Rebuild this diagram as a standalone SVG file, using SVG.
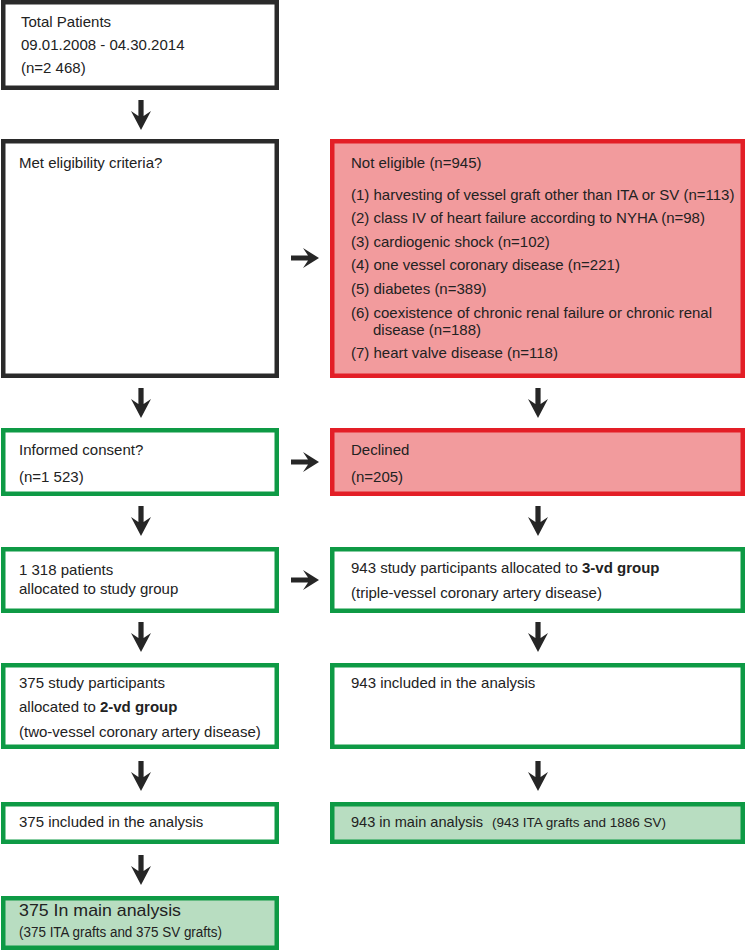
<svg xmlns="http://www.w3.org/2000/svg" width="747" height="952" viewBox="0 0 747 952">
<style>
.t{font-family:"Liberation Sans",Arial,Helvetica,sans-serif;font-size:15px;fill:#222}
.b{font-weight:bold}
.k{fill:#fff;stroke:#2a2a2a;stroke-width:4.5}
.g{fill:#fff;stroke:#0e9a45;stroke-width:4.5}
.gf{fill:#b8ddc1;stroke:#0e9a45;stroke-width:4.5}
.r{fill:#f29b9d;stroke:#e31e26;stroke-width:4.5}
.a{fill:#262626}
</style>
<defs>
<path id="dn" d="M-2.6 0 L2.6 0 L2.6 16 L10 11 L0 30 L-10 11 L-2.6 16 Z"/>
<path id="rt" d="M0 -2.6 L0 2.6 L17 2.6 L12 10 L28 0 L12 -10 L17 -2.6 Z"/>
</defs>
<g id="n1"><rect class="k" x="3.25" y="2.25" width="273.5" height="85.5"/>
<text class="t" x="21" y="27">Total Patients</text>
<text class="t" x="21" y="50">09.01.2008 - 04.30.2014</text>
<text class="t" x="21" y="73">(n=2 468)</text></g>
<g id="n2"><rect class="k" x="3.25" y="141.25" width="273.5" height="234.5"/>
<text class="t" x="19" y="168">Met eligibility criteria?</text></g>
<g id="n3"><rect class="r" x="332.25" y="141.25" width="410.5" height="234.5"/>
<text class="t" x="351" y="168">Not eligible (n=945)</text>
<text class="t" x="351" y="200">(1) harvesting of vessel graft other than ITA or SV (n=113)</text>
<text class="t" x="351" y="223">(2) class IV of heart failure according to NYHA (n=98)</text>
<text class="t" x="351" y="247">(3) cardiogenic shock (n=102)</text>
<text class="t" x="351" y="270">(4) one vessel coronary disease (n=221)</text>
<text class="t" x="351" y="294">(5) diabetes (n=389)</text>
<text class="t" x="351" y="318">(6) coexistence of chronic renal failure or chronic renal</text>
<text class="t" x="373" y="335">disease (n=188)</text>
<text class="t" x="351" y="358">(7) heart valve disease (n=118)</text></g>
<g id="n4"><rect class="g" x="3.25" y="430.25" width="273.5" height="63.5"/>
<text class="t" x="19" y="455">Informed consent?</text>
<text class="t" x="19" y="482">(n=1 523)</text></g>
<g id="n5"><rect class="r" x="332.25" y="430.25" width="410.5" height="63.5"/>
<text class="t" x="351" y="455">Declined</text>
<text class="t" x="351" y="482">(n=205)</text></g>
<g id="n6"><rect class="g" x="3.25" y="549.25" width="273.5" height="61.5"/>
<text class="t" x="19" y="575">1 318 patients</text>
<text class="t" x="19" y="594">allocated to study group</text></g>
<g id="n7"><rect class="g" x="332.25" y="549.25" width="410.5" height="61.5"/>
<text class="t" x="351" y="573">943 study participants allocated to <tspan class="b">3-vd group</tspan></text>
<text class="t" x="351" y="598">(triple-vessel coronary artery disease)</text></g>
<g id="n8"><rect class="g" x="3.25" y="665.25" width="273.5" height="81.5"/>
<text class="t" x="19" y="688">375 study participants</text>
<text class="t" x="19" y="712">allocated to <tspan class="b">2-vd group</tspan></text>
<text class="t" x="19" y="737">(two-vessel coronary artery disease)</text></g>
<g id="n9"><rect class="g" x="332.25" y="665.25" width="410.5" height="81.5"/>
<text class="t" x="351" y="688">943 included in the analysis</text></g>
<g id="n10"><rect class="g" x="3.25" y="804.25" width="273.5" height="37.5"/>
<text class="t" x="19" y="827">375 included in the analysis</text></g>
<g id="n11"><rect class="gf" x="332.25" y="804.25" width="410.5" height="37.5"/>
<text class="t" x="351" y="827" textLength="132" lengthAdjust="spacingAndGlyphs">943 in main analysis</text>
<text class="t" x="492" y="827" style="font-size:13.5px" textLength="174" lengthAdjust="spacingAndGlyphs">(943 ITA grafts and 1886 SV)</text></g>
<g id="n12"><rect class="gf" x="3.25" y="898.25" width="273.5" height="49.5"/>
<text class="t" x="19" y="916" style="font-size:17px" textLength="162" lengthAdjust="spacingAndGlyphs">375 In main analysis</text>
<text class="t" x="19" y="937" style="font-size:14px" textLength="203" lengthAdjust="spacingAndGlyphs">(375 ITA grafts and 375 SV grafts)</text></g>
<g id="connectors" class="a">
<use href="#dn" x="141" y="100"/>
<use href="#dn" x="141" y="388"/>
<use href="#dn" x="538" y="388"/>
<use href="#dn" x="141" y="506"/>
<use href="#dn" x="538" y="506"/>
<use href="#dn" x="141" y="622"/>
<use href="#dn" x="538" y="622"/>
<use href="#dn" x="141" y="761"/>
<use href="#dn" x="538" y="761"/>
<use href="#dn" x="141" y="855"/>
<use href="#rt" x="291" y="258"/>
<use href="#rt" x="291" y="462"/>
<use href="#rt" x="291" y="580"/>
</g>
</svg>
